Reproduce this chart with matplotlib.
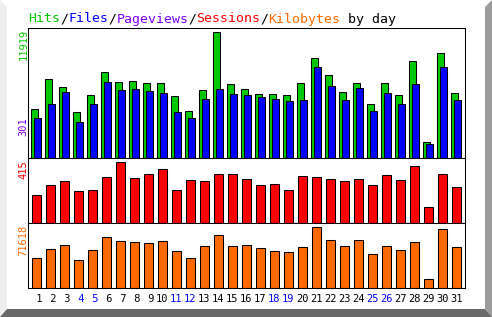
import matplotlib
matplotlib.use("Agg")
from matplotlib import pyplot as plt
from matplotlib.patches import Polygon

W, H = 492, 317

days = list(range(1, 32))
weekend_days = [4, 5, 11, 12, 18, 19, 25, 26]

hits = [4635, 7473, 6716, 4352, 5960, 8135, 7189, 7284, 7095, 7095,
        5865, 4446, 6433, 11919, 7000, 6527, 6054, 6054, 5960, 7095,
        9460, 7852, 6244, 7095, 5108, 7095, 5960, 9176, 1514, 9933, 6149]
files = [3784, 5108, 6244, 3406, 5108, 7189, 6433, 6527, 6338, 6149,
         4352, 3784, 5581, 6527, 6054, 5960, 5771, 5581, 5392, 5487,
         8609, 6811, 5487, 6622, 4446, 6149, 5108, 7000, 1324, 8609, 5487]
sessions = [189, 260, 285, 217, 224, 312, 415, 306, 333, 367,
            224, 292, 285, 333, 333, 299, 258, 265, 224, 319,
            312, 299, 285, 299, 258, 326, 292, 388, 107, 333, 244]
kbytes = [35043, 45662, 50382, 32683, 44482, 59820, 55101, 53921, 52741, 55101,
          43302, 35043, 49202, 62180, 49202, 50382, 46842, 43302, 42122, 48022,
          71618, 56281, 49202, 56281, 39763, 49202, 44482, 53921, 10265, 69258, 48022]
max_pageviews = 301

GREEN = '#00c800'
BLUE = '#0000ff'
PURPLE = '#8000ff'
RED = '#ff0000'
ORANGE = '#ff6a00'
MONO = 'DejaVu Sans Mono'
LW = 0.75


def fx(x):
    return x / W


def fy(y):
    return 1 - y / H


fig = plt.figure(figsize=(W / 100, H / 100), dpi=100)
fig.patch.set_facecolor('white')

# bevel border
fig.patches.append(Polygon([(fx(0), fy(0)), (fx(7), fy(7)), (fx(7), fy(309)), (fx(0), fy(317))],
                           closed=True, transform=fig.transFigure, facecolor='#eeeeee', edgecolor='none'))
fig.patches.append(Polygon([(fx(492), fy(0)), (fx(485), fy(7)), (fx(485), fy(309)), (fx(492), fy(317))],
                           closed=True, transform=fig.transFigure, facecolor='#9c9c9c', edgecolor='none'))
fig.patches.append(Polygon([(fx(0), fy(317)), (fx(7), fy(309)), (fx(485), fy(309)), (fx(492), fy(317))],
                           closed=True, transform=fig.transFigure, facecolor='#6a6a6a', edgecolor='none'))


def panel(top, bottom):
    ax = fig.add_axes([fx(28), fy(bottom), (465 - 28) / W, (bottom - top) / H])
    ax.set_xlim(0.407, 31.62)
    ax.set_xticks([])
    ax.set_yticks([])
    for s in ax.spines.values():
        s.set_linewidth(LW)
        s.set_color('black')
    return ax


ax1 = panel(28, 158.3)
ax1.set_ylim(0, 11919 * 130.3 / 126)
ax1.bar([d - 0.143 for d in days], hits, width=0.48, color=GREEN, edgecolor='black', linewidth=LW)
ax1.bar([d + 0.071 for d in days], files, width=0.48, color=BLUE, edgecolor='black', linewidth=LW)

ax2 = panel(158.3, 223)
ax2.set_ylim(0, 415 * 64.7 / 60.7)
ax2.bar(days, sessions, width=0.62, color=RED, edgecolor='black', linewidth=LW)

ax3 = panel(223, 288)
ax3.set_ylim(0, 71618 * 65 / 60.7)
ax3.bar(days, kbytes, width=0.62, color=ORANGE, edgecolor='black', linewidth=LW)

# title
title_parts = [("Hits", GREEN), ("/", 'black'), ("Files", BLUE), ("/", 'black'),
               ("Pageviews", PURPLE), ("/", 'black'), ("Sessions", RED), ("/", 'black'),
               ("Kilobytes", ORANGE), (" by day", 'black')]
n = 0
for txt, col in title_parts:
    fig.text(fx(28.5 + n * 8), fy(22.5), txt, color=col, family=MONO, fontsize=9.57,
             ha='left', va='baseline')
    n += len(txt)

# side labels
fig.text(fx(23.5), fy(29), str(max(hits)), color=GREEN, family=MONO, fontsize=7.5,
         rotation=90, ha='center', va='top')
fig.text(fx(23.5), fy(126.5), str(max_pageviews), color=PURPLE, family=MONO, fontsize=7.5,
         rotation=90, ha='center', va='center')
fig.text(fx(23.5), fy(160), str(max(sessions)), color=RED, family=MONO, fontsize=7.5,
         rotation=90, ha='center', va='top')
fig.text(fx(23.5), fy(225), str(max(kbytes)), color=ORANGE, family=MONO, fontsize=7.5,
         rotation=90, ha='center', va='top')

# day labels
for d in days:
    col = BLUE if d in weekend_days else 'black'
    ax3.text(d, -0.17, "%2d" % d, transform=ax3.get_xaxis_transform(), color=col,
             family=MONO, fontsize=7.5, ha='center', va='center')

fig.savefig('out.png', dpi=100)
